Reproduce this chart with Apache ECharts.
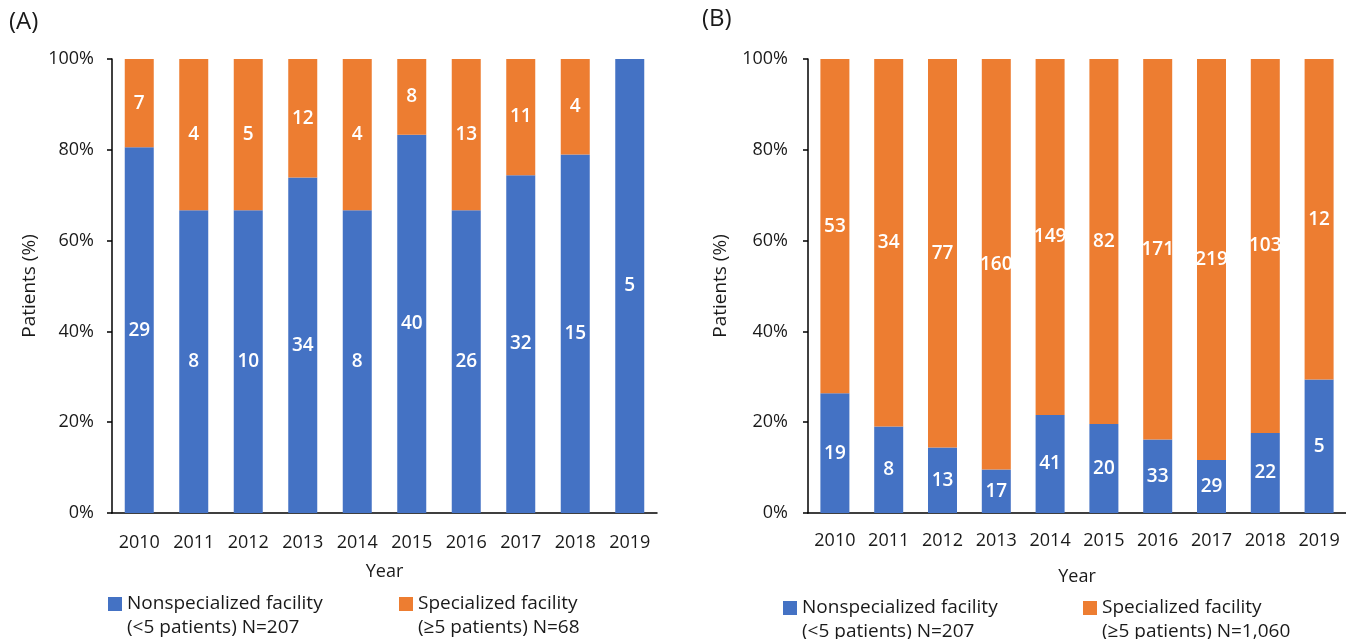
<!DOCTYPE html>
<html>
<head>
<meta charset="utf-8">
<script src="https://cdn.jsdelivr.net/npm/echarts@6/dist/echarts.min.js"></script>
<style>
  html, body { margin: 0; padding: 0; background: #fff; }
  #chart { width: 1346px; height: 639px; }
</style>
</head>
<body>
<div id="chart"></div>
<script>
// Patients per year by facility type
const years = ['2010', '2011', '2012', '2013', '2014', '2015', '2016', '2017', '2018', '2019'];

// (A) counts
const nonspecA = [29, 8, 10, 34, 8, 40, 26, 32, 15, 5];
const specA = [7, 4, 5, 12, 4, 8, 13, 11, 4, 0];

// (B) counts
const nonspecB = [19, 8, 13, 17, 41, 20, 33, 29, 22, 5];
const specB = [53, 34, 77, 160, 149, 82, 171, 219, 103, 12];

const legendNonspec = ['Nonspecialized facility', '(<5 patients) N=207'];
const legendSpecA = ['Specialized facility', '(≥5 patients) N=68'];
const legendSpecB = ['Specialized facility', '(≥5 patients) N=1,060'];

const BLUE = '#4472C4';
const ORANGE = '#ED7D31';
const INK = '#1a1a1a';
const FONT = '"Open Sans", "Noto Sans", sans-serif';

// share of each year's total, in percent
function shares(part, other) {
  return part.map((v, i) => {
    const total = v + other[i];
    return total ? v / total * 100 : 0;
  });
}

function barSeries(name, counts, other, color, axisIdx) {
  return {
    name: name,
    type: 'bar',
    stack: 'panel' + axisIdx,
    xAxisIndex: axisIdx,
    yAxisIndex: axisIdx,
    barWidth: 29,
    data: shares(counts, other),
    itemStyle: { color: color },
    label: {
      show: true,
      position: 'inside',
      color: '#fff',
      fontFamily: FONT,
      fontSize: 19,
      fontWeight: 600,
      formatter: p => counts[p.dataIndex] ? String(counts[p.dataIndex]) : ''
    }
  };
}

function xAxis(gridIndex, nameGap, labelMargin) {
  return {
    type: 'category',
    gridIndex: gridIndex,
    data: years,
    name: 'Year',
    nameLocation: 'middle',
    nameGap: nameGap,
    nameTextStyle: { fontFamily: FONT, fontSize: 18, color: INK },
    axisLine: { lineStyle: { color: '#000', width: 1.5 } },
    axisTick: { alignWithLabel: true, length: 5, lineStyle: { color: '#000', width: 1.5 } },
    axisLabel: { fontFamily: FONT, fontSize: 18, color: INK, margin: labelMargin }
  };
}

function yAxis(gridIndex, nameGap, labelMargin) {
  return {
    type: 'value',
    gridIndex: gridIndex,
    min: 0,
    max: 100,
    interval: 20,
    name: 'Patients (%)',
    nameLocation: 'middle',
    nameGap: nameGap,
    nameTextStyle: { fontFamily: FONT, fontSize: 19, color: INK },
    axisLine: { show: true, lineStyle: { color: '#000', width: 1.5 } },
    axisTick: { show: true, length: 5, lineStyle: { color: '#000', width: 1.5 } },
    splitLine: { show: false },
    axisLabel: { fontFamily: FONT, fontSize: 18, color: INK, margin: labelMargin, formatter: '{value}%' }
  };
}

// one legend entry; the text is centred on the swatch, so an empty leading
// line puts the swatch beside the first line of the two-line caption
function legendItem(name, lines, left, top) {
  return {
    left: left,
    top: top,
    padding: 0,
    data: [name],
    formatter: () => ' \n' + lines.join('\n'),
    itemWidth: 14,
    itemHeight: 14,
    itemGap: 0,
    selectedMode: false,
    icon: 'rect',
    textStyle: {
      fontFamily: FONT,
      fontSize: 19,
      color: INK,
      lineHeight: 24
    }
  };
}

const chart = echarts.init(document.getElementById('chart'), null, { renderer: 'canvas' });

chart.setOption({
  animation: false,
  backgroundColor: '#fff',
  title: [
    { text: '(A)', left: 9, top: 10, padding: 0, textStyle: { fontFamily: FONT, fontSize: 24, fontWeight: 'normal', color: INK } },
    { text: '(B)', left: 702, top: 7, padding: 0, textStyle: { fontFamily: FONT, fontSize: 24, fontWeight: 'normal', color: INK } }
  ],
  grid: [
    { left: 112, top: 59, width: 545, height: 454 },
    { left: 808, top: 59, width: 538, height: 454 }
  ],
  xAxis: [xAxis(0, 50, 21), xAxis(1, 55, 19)],
  yAxis: [yAxis(0, 73, 18), yAxis(1, 78, 20)],
  legend: [
    legendItem('Nonspecialized facility A', legendNonspec, 108, 568),
    legendItem('Specialized facility A', legendSpecA, 399, 568),
    legendItem('Nonspecialized facility B', legendNonspec, 783, 572),
    legendItem('Specialized facility B', legendSpecB, 1083, 572)
  ],
  series: [
    barSeries('Nonspecialized facility A', nonspecA, specA, BLUE, 0),
    barSeries('Specialized facility A', specA, nonspecA, ORANGE, 0),
    barSeries('Nonspecialized facility B', nonspecB, specB, BLUE, 1),
    barSeries('Specialized facility B', specB, nonspecB, ORANGE, 1)
  ]
});
</script>
</body>
</html>
